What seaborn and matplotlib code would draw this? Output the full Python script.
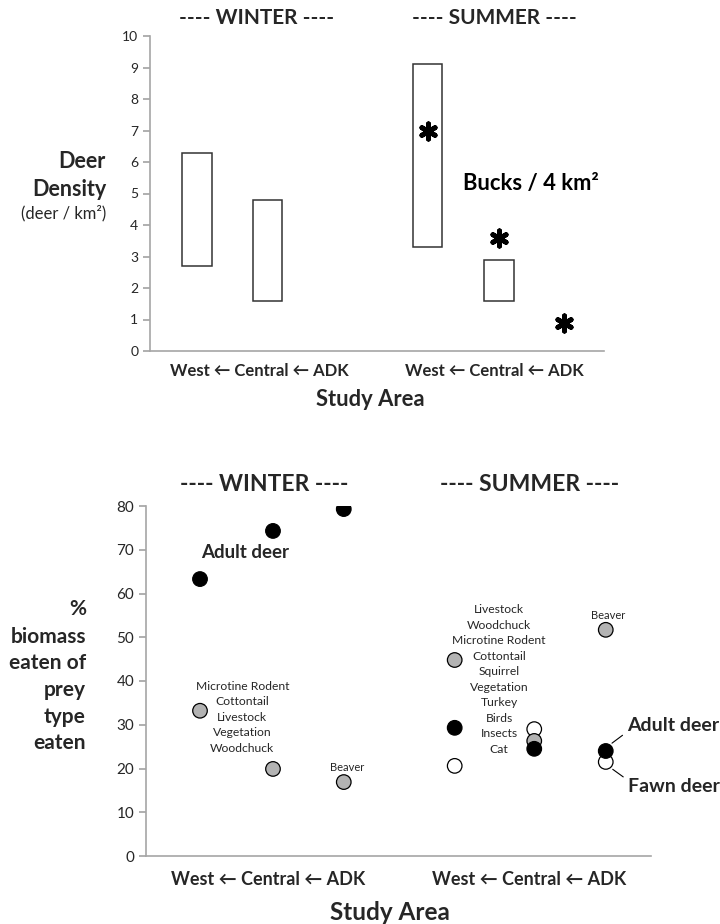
import matplotlib
matplotlib.use("Agg")
import matplotlib.pyplot as plt
import pandas as pd
import seaborn as sns

areas = ["West", "Central", "ADK"]
area_tick = "West \u2190 Central \u2190 ADK"

# deer density ranges (deer / km2); ADK has no range
winter_density_low = [2.7, 1.6]
winter_density_high = [6.3, 4.8]
summer_density_low = [3.3, 1.6]
summer_density_high = [9.1, 2.9]
summer_bucks = [7.0, 3.6, 0.9]  # bucks / 4 km2

# % biomass eaten of prey type
winter_adult_deer = [63.3, 74.3, 79.3]
winter_other_prey = [33.2, 19.9, 16.9]
summer_adult_deer = [29.3, 24.5, 24.0]
summer_other_prey = [44.8, 26.3, 51.7]
summer_fawn_deer = [20.6, 29.0, 21.5]

winter_prey_names = ["Microtine Rodent", "Cottontail", "Livestock", "Vegetation", "Woodchuck"]
summer_prey_names = ["Livestock", "Woodchuck", "Microtine Rodent", "Cottontail", "Squirrel",
                     "Vegetation", "Turkey", "Birds", "Insects", "Cat"]

# x slots of the three study areas in each season
top_winter_x = [0, 1, 2]
top_summer_x = [3.27, 4.28, 5.2]
bot_winter_x = [0, 1, 1.97]
bot_summer_x = [3.49, 4.58, 5.56]

sns.set_theme(style="ticks")
plt.rcParams["font.family"] = ["Lato", "DejaVu Sans"]
spine_col = "#a6a6a6"
txt_col = "#262626"

fig = plt.figure(figsize=(7.2, 9.24), dpi=100)
ax1 = fig.add_axes([150 / 720, 1 - 351 / 924, 454 / 720, 315 / 924])
ax2 = fig.add_axes([146 / 720, 1 - 856 / 924, 505 / 720, 350 / 924])

for ax in (ax1, ax2):
    sns.despine(ax=ax)
    for s in ("left", "bottom"):
        ax.spines[s].set_color(spine_col)
        ax.spines[s].set_linewidth(1.2)
    ax.tick_params(axis="y", color=spine_col, length=5, labelcolor=txt_col)
    ax.tick_params(axis="x", length=0)

# ---- top panel: density ranges ----
box_x = top_winter_x[:2] + top_summer_x[:2]
box_low = winter_density_low + summer_density_low
box_high = winter_density_high + summer_density_high
ax1.bar(box_x, [h - l for h, l in zip(box_high, box_low)], bottom=box_low, width=0.42,
        color="white", edgecolor="#333333", linewidth=1.1)

bucks = pd.DataFrame({"x": top_summer_x, "bucks": summer_bucks})
sns.scatterplot(data=bucks, x="x", y="bucks", marker=(6, 2, 0), s=120, color="black",
                linewidth=3.5, ax=ax1, legend=False)

ax1.set_xlim(-0.667, 5.77)
ax1.set_ylim(0, 10)
ax1.set_yticks(range(0, 11))
ax1.tick_params(axis="y", labelsize=10)
ax1.set_xticks([0.89, 4.21], [area_tick, area_tick])
ax1.tick_params(axis="x", labelsize=12, pad=9)
for lab in ax1.get_xticklabels():
    lab.set_fontweight("bold")
ax1.set_xlabel("")
ax1.set_ylabel("")
ax1.text(4.74, 5.33, "Bucks / 4 km\u00b2", ha="center", va="center", fontsize=15.8,
         fontweight="bold", color="black")

fig.text(257 / 720, 1 - 18 / 924, "---- WINTER ----", ha="center", va="center",
         fontsize=15, fontweight="bold")
fig.text(494 / 720, 1 - 18 / 924, "---- SUMMER ----", ha="center", va="center",
         fontsize=15, fontweight="bold")
fig.text(106 / 720, 1 - 162 / 924, "Deer", ha="right", va="center", fontsize=15.5, fontweight="bold")
fig.text(106 / 720, 1 - 190 / 924, "Density", ha="right", va="center", fontsize=15.5, fontweight="bold")
fig.text(106 / 720, 1 - 213 / 924, "(deer / km\u00b2)", ha="right", va="center", fontsize=12)
fig.text(370 / 720, 1 - 400 / 924, "Study Area", ha="center", va="center", fontsize=15.8,
         fontweight="bold")

# ---- bottom panel: diet ----
diet = pd.DataFrame({
    "x": bot_summer_x + bot_winter_x + bot_summer_x + bot_winter_x + bot_summer_x,
    "pct": summer_fawn_deer + winter_other_prey + summer_other_prey
           + winter_adult_deer + summer_adult_deer,
    "prey": ["fawn"] * 3 + ["other"] * 6 + ["adult"] * 6,
})
sns.scatterplot(data=diet, x="x", y="pct", hue="prey",
                palette={"fawn": "white", "other": "#b3b3b3", "adult": "black"},
                s=110, edgecolor="black", linewidth=0.9, ax=ax2, legend=False, zorder=3)

ax2.set_xlim(-0.74, 6.18)
ax2.set_ylim(0, 80)
ax2.set_yticks(range(0, 81, 10))
ax2.tick_params(axis="y", labelsize=11)
ax2.set_xticks([0.93, 4.51], [area_tick, area_tick])
ax2.tick_params(axis="x", labelsize=13, pad=11)
for lab in ax2.get_xticklabels():
    lab.set_fontweight("bold")
ax2.set_xlabel("")
ax2.set_ylabel("")

ax2.text(0.62, 69.3, "Adult deer", ha="center", va="center", fontsize=13.5, fontweight="bold")
ax2.text(0.58, 31.7, "\n".join(winter_prey_names), ha="center", va="center", fontsize=8.7,
         linespacing=1.5, color=txt_col)
ax2.text(bot_winter_x[2] + 0.04, 20.3, "Beaver", ha="center", va="center", fontsize=8, color=txt_col)
ax2.text(4.1, 40.3, "\n".join(summer_prey_names), ha="center", va="center", fontsize=8.7,
         linespacing=1.5, color=txt_col)
ax2.text(bot_summer_x[2] + 0.03, 54.9, "Beaver", ha="center", va="center", fontsize=8, color=txt_col)

ax2.annotate("Adult deer", xy=(5.63, 25.6), xytext=(5.85, 29.9), ha="left", va="center",
             fontsize=14, fontweight="bold", annotation_clip=False,
             arrowprops=dict(arrowstyle="-", lw=0.8, color="black", relpos=(0, 0.1),
                             shrinkA=1, shrinkB=1))
ax2.annotate("Fawn deer", xy=(5.64, 20.0), xytext=(5.86, 15.8), ha="left", va="center",
             fontsize=14, fontweight="bold", annotation_clip=False,
             arrowprops=dict(arrowstyle="-", lw=0.8, color="black", relpos=(0, 0.9),
                             shrinkA=1, shrinkB=1))

fig.text(264 / 720, 1 - 485 / 924, "---- WINTER ----", ha="center", va="center",
         fontsize=16.5, fontweight="bold")
fig.text(530 / 720, 1 - 485 / 924, "---- SUMMER ----", ha="center", va="center",
         fontsize=16.5, fontweight="bold")
for yy, word in zip([609, 637, 663, 690, 717, 743],
                    ["%", "biomass", "eaten of", "prey", "type", "eaten"]):
    fig.text(86 / 720, 1 - yy / 924, word, ha="right", va="center", fontsize=15, fontweight="bold")
fig.text(390 / 720, 1 - 912 / 924, "Study Area", ha="center", va="center", fontsize=17.5,
         fontweight="bold")

fig.savefig("out.png", dpi=100, facecolor="white")
